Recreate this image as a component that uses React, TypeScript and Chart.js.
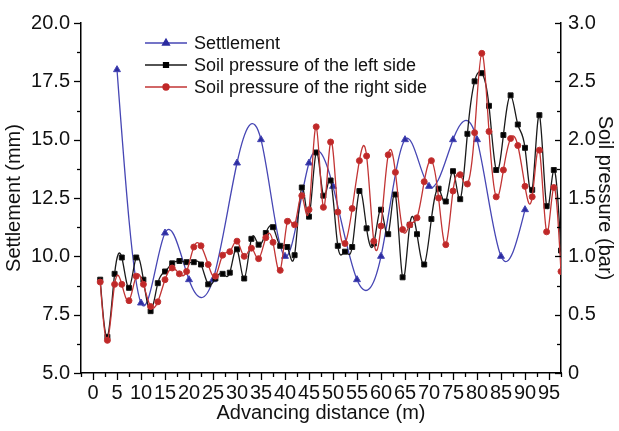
import React, { useEffect, useRef } from "react";
import { Chart, registerables } from "chart.js";
import { drawPoint } from "chart.js/helpers";

Chart.register(...registerables);

const FONT = "'Liberation Sans', Arial, sans-serif";
const TEXT = "#111";

const settlementDistance = [5, 10, 15, 20, 25, 30, 35, 40, 45, 50, 55, 60, 65, 70, 75, 80, 85, 90];
const settlement = [18, 8, 11, 9, 9, 14, 15, 10, 14, 13, 9, 10, 15, 13, 15, 15, 10, 12];

const pressureDistance = [
  1.5, 3, 4.5, 6, 7.5, 9, 10.5, 12, 13.5, 15, 16.5, 18, 19.5, 21, 22.5, 24, 25.5, 27, 28.5, 30,
  31.5, 33, 34.5, 36, 37.5, 39, 40.5, 42, 43.5, 45, 46.5, 48, 49.5, 51, 52.5, 54, 55.5, 57, 58.5, 60,
  61.5, 63, 64.5, 66, 67.5, 69, 70.5, 72, 73.5, 75, 76.5, 78, 79.5, 81, 82.5, 84, 85.5, 87, 88.5, 90,
  91.5, 93, 94.5, 96, 97.5,
];
const leftPressure = [
  0.8, 0.31, 0.85, 0.99, 0.73, 0.99, 0.8, 0.53, 0.77, 0.87, 0.94, 0.96, 0.95, 0.95, 0.93, 0.76, 0.81, 0.85, 0.86, 1.06,
  0.81, 1.15, 1.1, 1.2, 1.25, 1.09, 1.08, 1.01, 1.59, 1.34, 1.89, 1.52, 1.65, 1.09, 1.04, 1.08, 1.56, 1.24, 1.11, 1.4,
  1.19, 1.53, 0.82, 1.27, 1.19, 0.93, 1.32, 1.58, 1.47, 1.73, 1.49, 2.05, 2.5, 2.57, 2.29, 1.74, 2.04, 2.38, 2.13, 1.93,
  1.57, 2.21, 1.43, 1.74, 1.05,
];
const rightPressure = [
  0.78, 0.28, 0.76, 0.76, 0.62, 0.83, 0.76, 0.57, 0.61, 0.8, 0.9, 0.85, 0.87, 1.08, 1.09, 0.93, 0.83, 1.01, 1.04, 1.13,
  1.0, 1.07, 0.98, 1.16, 1.12, 0.88, 1.3, 1.27, 1.52, 1.4, 2.11, 1.42, 1.98, 1.38, 1.11, 1.41, 1.82, 1.86, 1.13, 1.26,
  1.87, 1.72, 1.23, 1.27, 1.33, 1.64, 1.82, 1.5, 1.1, 1.56, 1.7, 1.62, 2.06, 2.74, 2.07, 1.51, 1.74, 2.01, 1.95, 1.6,
  1.51, 1.91, 1.21, 1.59, 0.87,
];

const xTickValues = [0, 5, 10, 15, 20, 25, 30, 35, 40, 45, 50, 55, 60, 65, 70, 75, 80, 85, 90, 95];
const settlementTicks = [5, 7.5, 10, 12.5, 15, 17.5, 20];
const pressureTicks = [0, 0.5, 1, 1.5, 2, 2.5, 3];

// Natural cubic spline through the scale-mapped points (curve style like the original plot)
const splinePlugin = {
  id: "naturalSpline",
  beforeDatasetDraw(chart: any, args: any) {
    const meta = args.meta;
    const pts = meta.data;
    const n = pts.length;
    if (!meta.dataset || n < 3) return;
    const xs = pts.map((p: any) => p.x);
    const ys = pts.map((p: any) => p.y);
    const h: number[] = [];
    for (let i = 0; i < n - 1; i++) h.push(xs[i + 1] - xs[i]);
    const M = new Array(n).fill(0);
    const cp = new Array(n).fill(0);
    const dp = new Array(n).fill(0);
    for (let i = 1; i < n - 1; i++) {
      const a = h[i - 1];
      const b = 2 * (h[i - 1] + h[i]);
      const c = h[i];
      const d = 6 * ((ys[i + 1] - ys[i]) / h[i] - (ys[i] - ys[i - 1]) / h[i - 1]);
      const den = b - a * cp[i - 1];
      cp[i] = c / den;
      dp[i] = (d - a * dp[i - 1]) / den;
    }
    for (let i = n - 2; i >= 1; i--) M[i] = dp[i] - cp[i] * M[i + 1];
    const s: number[] = [];
    for (let i = 0; i < n - 1; i++) s.push((ys[i + 1] - ys[i]) / h[i] - (h[i] * (2 * M[i] + M[i + 1])) / 6);
    s.push((ys[n - 1] - ys[n - 2]) / h[n - 2] + (h[n - 2] * (M[n - 2] + 2 * M[n - 1])) / 6);
    for (let i = 0; i < n; i++) {
      const p = pts[i];
      const hp = i > 0 ? h[i - 1] : 0;
      const hn = i < n - 1 ? h[i] : 0;
      p.cp1x = xs[i] - hp / 3;
      p.cp1y = ys[i] - (s[i] * hp) / 3;
      p.cp2x = xs[i] + hn / 3;
      p.cp2y = ys[i] + (s[i] * hn) / 3;
    }
    meta.dataset._pointsUpdated = true;
    delete meta.dataset._path;
  },
};

const tickMarksPlugin = {
  id: "tickMarks",
  afterDraw(chart: any) {
    const ctx = chart.ctx;
    const { x, y, y1 } = chart.scales;
    const { bottom, left, right } = chart.chartArea;
    ctx.save();
    ctx.strokeStyle = "#000";
    ctx.lineWidth = 1.3;
    const seg = (a: number, b: number, c: number, d: number) => {
      ctx.beginPath();
      ctx.moveTo(a, b);
      ctx.lineTo(c, d);
      ctx.stroke();
    };
    const majMin = (vals: number[], extend: boolean) => {
      const out: { v: number; major: boolean }[] = [];
      const step = vals[1] - vals[0];
      if (extend) out.push({ v: vals[0] - step / 2, major: false });
      vals.forEach((v, i) => {
        out.push({ v, major: true });
        if (i < vals.length - 1 || extend) out.push({ v: v + step / 2, major: false });
      });
      return out;
    };
    majMin(xTickValues, true).forEach(({ v, major }) => {
      const px = Math.round(x.getPixelForValue(v)) + 0.5;
      seg(px, bottom, px, bottom + (major ? 7 : 4));
    });
    majMin(settlementTicks, false).forEach(({ v, major }) => {
      const py = Math.round(y.getPixelForValue(v)) + 0.5;
      seg(left, py, left - (major ? 7 : 4), py);
    });
    majMin(pressureTicks, false).forEach(({ v, major }) => {
      const py = Math.round(y1.getPixelForValue(v)) + 0.5;
      seg(right, py, right - (major ? 6 : 4), py);
    });
    ctx.restore();
  },
};

const legendPlugin = {
  id: "innerLegend",
  afterDraw(chart: any) {
    const ctx = chart.ctx;
    const { left, top } = chart.chartArea;
    ctx.save();
    chart.data.datasets.forEach((ds: any, i: number) => {
      const yy = top + 20 + i * 22;
      ctx.strokeStyle = ds.borderColor;
      ctx.lineWidth = ds.borderWidth;
      ctx.beginPath();
      ctx.moveTo(left + 64, yy);
      ctx.lineTo(left + 106, yy);
      ctx.stroke();
      ctx.fillStyle = ds.backgroundColor;
      ctx.strokeStyle = ds.backgroundColor;
      drawPoint(ctx, { pointStyle: ds.pointStyle, radius: ds.pointRadius, borderWidth: 1, rotation: 0 }, left + 85, yy);
      ctx.fillStyle = TEXT;
      ctx.font = `18px ${FONT}`;
      ctx.textBaseline = "middle";
      ctx.textAlign = "left";
      ctx.fillText(ds.label, left + 113, yy + 1);
    });
    ctx.restore();
  },
};

export default function App() {
  const ref = useRef<HTMLCanvasElement | null>(null);
  useEffect(() => {
    document.body.style.margin = "0";
    const canvas = ref.current;
    if (!canvas) return;
    const tickFont = { family: FONT, size: 20 };
    const titleFont = { family: FONT, size: 20 };
    const chart = new Chart(canvas, {
      type: "line",
      data: {
        datasets: [
          {
            label: "Settlement",
            data: settlementDistance.map((d, i) => ({ x: d, y: settlement[i] })),
            yAxisID: "y",
            borderColor: "#4646b4",
            backgroundColor: "#2c2ca0",
            pointStyle: "triangle",
            pointRadius: 4,
            pointBorderWidth: 1,
            borderWidth: 1.3,
            tension: 0.4,
            order: 2,
          },
          {
            label: "Soil pressure of the left side",
            data: pressureDistance.map((d, i) => ({ x: d, y: leftPressure[i] })),
            yAxisID: "y1",
            borderColor: "#1a1a1a",
            backgroundColor: "#000000",
            pointStyle: "rect",
            pointRadius: 3.5,
            pointBorderWidth: 1,
            borderWidth: 1.3,
            tension: 0.4,
            order: 1,
          },
          {
            label: "Soil pressure of the right side",
            data: pressureDistance.map((d, i) => ({ x: d, y: rightPressure[i] })),
            yAxisID: "y1",
            borderColor: "#c23434",
            backgroundColor: "#c02828",
            pointStyle: "circle",
            pointRadius: 3,
            pointBorderWidth: 1,
            borderWidth: 1.3,
            tension: 0.4,
            order: 0,
          },
        ],
      },
      options: {
        responsive: false,
        devicePixelRatio: 1,
        animation: false,
        layout: { padding: { top: 17, left: 0, right: 0, bottom: 0 } },
        plugins: { legend: { display: false }, tooltip: { enabled: false } },
        scales: {
          x: {
            type: "linear",
            position: "bottom",
            min: -2.5,
            max: 97.5,
            afterBuildTicks: (s: any) => {
              s.ticks = xTickValues.map((value) => ({ value }));
            },
            afterFit: (s: any) => {
              s.height = 58;
            },
            grid: { display: false, drawTicks: false },
            border: { display: true, color: "#000", width: 1.5 },
            ticks: {
              font: tickFont,
              color: TEXT,
              padding: 8,
              maxRotation: 0,
              autoSkip: false,
              callback: (v: any) => String(v),
            },
            title: {
              display: true,
              text: "Advancing distance (m)",
              font: titleFont,
              color: TEXT,
              padding: { top: 0, bottom: 6 },
            },
          },
          y: {
            type: "linear",
            position: "left",
            min: 5,
            max: 20,
            afterBuildTicks: (s: any) => {
              s.ticks = settlementTicks.map((value) => ({ value }));
            },
            afterFit: (s: any) => {
              s.width = 81;
            },
            grid: { display: false, drawTicks: false },
            border: { display: true, color: "#000", width: 1.5 },
            ticks: {
              font: tickFont,
              color: TEXT,
              padding: 11,
              callback: (v: any) => Number(v).toFixed(1),
            },
            title: {
              display: true,
              text: "Settlement (mm)",
              font: titleFont,
              color: TEXT,
              padding: { top: 2, bottom: 0 },
            },
          },
          y1: {
            type: "linear",
            position: "right",
            min: 0,
            max: 3,
            afterBuildTicks: (s: any) => {
              s.ticks = pressureTicks.map((value) => ({ value }));
            },
            afterFit: (s: any) => {
              s.width = 58;
            },
            grid: { display: false, drawTicks: false },
            border: { display: true, color: "#000", width: 1.5 },
            ticks: {
              font: tickFont,
              color: TEXT,
              padding: 7,
              callback: (v: any) => (Number(v) === 0 ? "0" : Number(v).toFixed(1)),
            },
            title: {
              display: true,
              text: "Soil pressure (bar)",
              font: titleFont,
              color: TEXT,
              padding: { top: 2, bottom: 0 },
            },
          },
        },
      },
      plugins: [splinePlugin, tickMarksPlugin, legendPlugin],
    } as any);
    return () => chart.destroy();
  }, []);
  return (
    <div style={{ position: "relative", width: 619, height: 431 }}>
      <canvas ref={ref} width={619} height={431} style={{ display: "block" }} />
    </div>
  );
}
